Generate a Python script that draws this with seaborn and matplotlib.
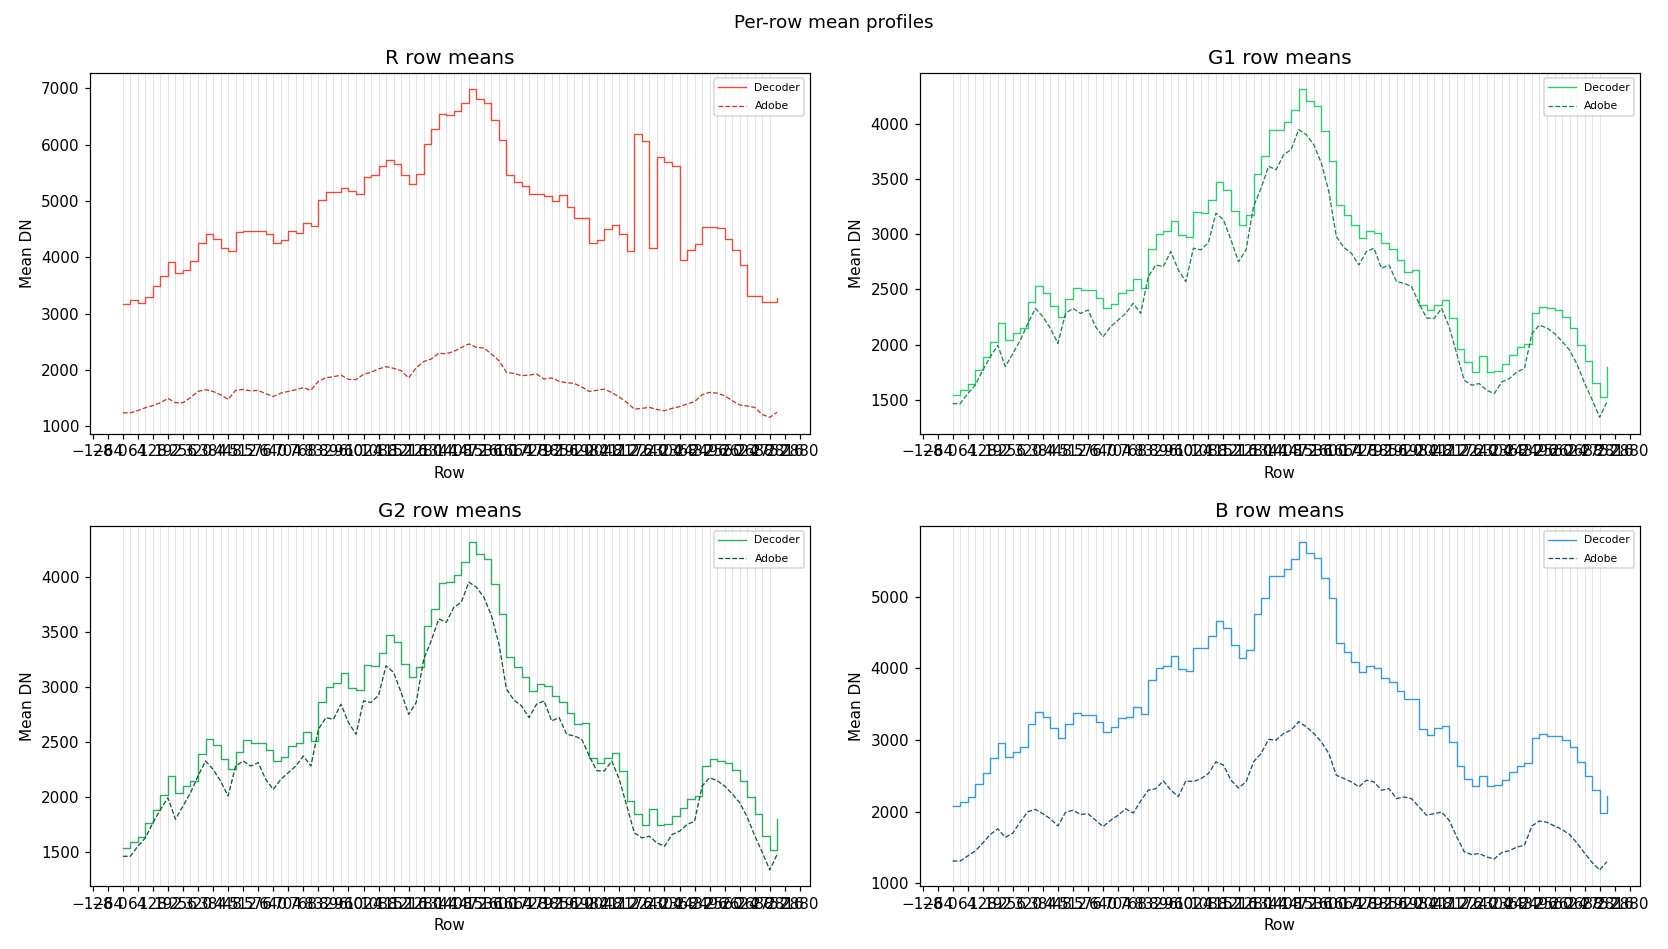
import numpy as np
import matplotlib
matplotlib.use("Agg")
import matplotlib.pyplot as plt
from matplotlib.ticker import MultipleLocator
import seaborn as sns

# sample rows: one value per 32-row block, plus the final row
block_rows = list(range(0, 2784, 32)) + [2783]

r_decoder = [3164, 3247, 3194, 3289, 3496, 3675, 3912, 3716, 3776, 3942,
             4251, 4417, 4328, 4167, 4120, 4458, 4476, 4476, 4464, 4417,
             4251, 4310, 4476, 4429, 4607, 4565, 5011, 5153, 5153, 5236,
             5170, 5130, 5426, 5468, 5617, 5724, 5653, 5457, 5309, 5487,
             6020, 6287, 6542, 6524, 6602, 6744, 6980, 6803, 6732, 6436,
             6080, 5457, 5339, 5262, 5119, 5119, 5084, 5000, 5101, 4894,
             4704, 4704, 4253, 4313, 4508, 4568, 4420, 4111, 6198, 6060,
             4164, 5780, 5700, 5620, 3957, 4135, 4242, 4538, 4538, 4520,
             4331, 4135, 3856, 3322, 3322, 3204, 3200, 3280]
r_adobe = [1240, 1240, 1280, 1330, 1370, 1420, 1496, 1420, 1420, 1510,
           1620, 1650, 1620, 1560, 1478, 1640, 1656, 1630, 1638, 1580,
           1530, 1590, 1620, 1650, 1686, 1640, 1800, 1864, 1880, 1910,
           1834, 1830, 1923, 1960, 2018, 2060, 2030, 1988, 1860, 2040,
           2150, 2196, 2297, 2290, 2330, 2400, 2463, 2403, 2391, 2285,
           2166, 1958, 1940, 1900, 1910, 1929, 1840, 1860, 1800, 1775,
           1763, 1700, 1620, 1640, 1662, 1600, 1520, 1425, 1306, 1320,
           1336, 1300, 1277, 1320, 1350, 1395, 1440, 1560, 1603, 1590,
           1543, 1455, 1380, 1360, 1336, 1210, 1160, 1250]

g1_decoder = [1540, 1591, 1640, 1767, 1888, 2020, 2191, 2040, 2100, 2146,
              2388, 2530, 2470, 2349, 2252, 2409, 2515, 2494, 2494, 2425,
              2328, 2364, 2464, 2494, 2591, 2509, 2864, 3003, 3031, 3121,
              2994, 2973, 3197, 3191, 3306, 3470, 3403, 3206, 3085, 3176,
              3549, 3706, 3943, 3949, 4015, 4130, 4312, 4206, 4161, 3934,
              3661, 3267, 3176, 3085, 2964, 3025, 3009, 2918, 2864, 2767,
              2661, 2676, 2358, 2313, 2358, 2403, 2237, 1964, 1843, 1752,
              1894, 1752, 1761, 1828, 1903, 1979, 2009, 2282, 2343, 2330,
              2310, 2250, 2150, 2000, 1850, 1650, 1520, 1800]
g1_adobe = [1464, 1464, 1555, 1631, 1767, 1888, 1994, 1800, 1918, 2040,
            2191, 2328, 2252, 2146, 2010, 2282, 2328, 2282, 2313, 2161,
            2070, 2161, 2222, 2282, 2373, 2282, 2615, 2721, 2706, 2843,
            2676, 2570, 2873, 2858, 2924, 3191, 3130, 2949, 2750, 2858,
            3252, 3418, 3615, 3585, 3721, 3767, 3949, 3903, 3812, 3646,
            3388, 2979, 2880, 2828, 2721, 2843, 2873, 2691, 2721, 2570,
            2555, 2525, 2373, 2240, 2237, 2328, 2161, 1918, 1676, 1631,
            1646, 1585, 1555, 1661, 1691, 1752, 1782, 2100, 2176, 2150,
            2100, 2030, 1950, 1820, 1650, 1500, 1340, 1480]

# G2 profile is the same as G1 in the picture
g2_decoder = list(g1_decoder)
g2_adobe = list(g1_adobe)

b_decoder = [2075, 2135, 2205, 2383, 2542, 2743, 2953, 2757, 2836, 2906,
             3224, 3397, 3327, 3164, 3023, 3224, 3374, 3350, 3350, 3257,
             3117, 3177, 3304, 3327, 3467, 3364, 3841, 4005, 4028, 4177,
             3990, 3967, 4285, 4285, 4449, 4659, 4565, 4332, 4145, 4262,
             4766, 4986, 5290, 5290, 5392, 5533, 5766, 5617, 5547, 5266,
             4986, 4355, 4224, 4084, 3958, 4028, 4005, 3864, 3818, 3692,
             3570, 3570, 3149, 3070, 3163, 3196, 2976, 2635, 2463, 2355,
             2495, 2355, 2369, 2449, 2556, 2635, 2682, 3023, 3084, 3060,
             3050, 3000, 2900, 2700, 2500, 2300, 1980, 2220]
b_adobe = [1310, 1310, 1380, 1450, 1560, 1680, 1760, 1640, 1700, 1860,
           2000, 2030, 1970, 1900, 1800, 1990, 2020, 1960, 1970, 1880,
           1790, 1880, 1950, 2040, 1980, 2150, 2300, 2320, 2430, 2300,
           2210, 2430, 2420, 2460, 2533, 2696, 2649, 2439, 2330, 2416,
           2696, 2813, 3009, 3000, 3093, 3140, 3257, 3187, 3093, 2976,
           2813, 2509, 2463, 2416, 2346, 2439, 2416, 2299, 2322, 2182,
           2205, 2182, 2065, 1949, 1972, 1995, 1879, 1650, 1440, 1400,
           1415, 1365, 1340, 1430, 1455, 1505, 1530, 1800, 1870, 1850,
           1800, 1750, 1680, 1560, 1420, 1290, 1185, 1300]

channels = ["R", "G1", "G2", "B"]
decoder_data = [r_decoder, g1_decoder, g2_decoder, b_decoder]
adobe_data = [r_adobe, g1_adobe, g2_adobe, b_adobe]
decoder_colors = ["#e74c3c", "#2ecc71", "#27ae60", "#3498db"]
adobe_colors = ["#c0392b", "#1e8449", "#145a32", "#1b4f72"]

fig, axes = plt.subplots(2, 2, figsize=(1668 / 110, 949 / 110), dpi=110)
fig.subplots_adjust(left=0.054, right=0.983, top=0.923, bottom=0.066,
                    wspace=0.153, hspace=0.255)

for ax, ch, dec, ado, c1, c2 in zip(axes.flat, channels, decoder_data, adobe_data,
                                     decoder_colors, adobe_colors):
    # tile boundaries
    for r in block_rows[:-1]:
        ax.axvline(r, color="#dddddd", lw=0.55, zorder=0)
    sns.lineplot(x=block_rows, y=dec, ax=ax, color=c1, lw=0.9,
                 drawstyle="steps-post", label="Decoder")
    sns.lineplot(x=block_rows, y=ado, ax=ax, color=c2, lw=0.85,
                 linestyle="--", label="Adobe")
    ax.xaxis.set_major_locator(MultipleLocator(64))
    ax.set_title(f"{ch} row means", fontsize=13)
    ax.set_xlabel("Row")
    ax.set_ylabel("Mean DN")
    ax.legend(loc="upper right", fontsize=7, handlelength=2.6, labelspacing=0.8)

fig.suptitle("Per-row mean profiles", fontsize=12, y=0.985)
fig.savefig("out.png", dpi=110)
